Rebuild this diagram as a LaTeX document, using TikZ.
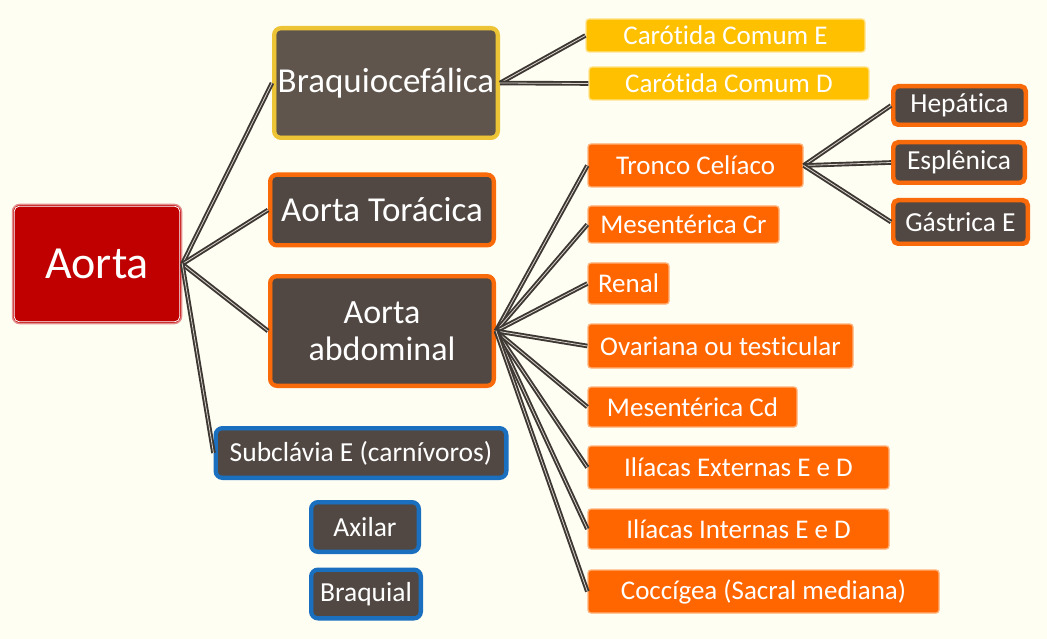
\documentclass[tikz,border=0pt]{standalone}
\usepackage{fontspec}
\setmainfont[Ligatures={NoCommon}]{Carlito}
\definecolor{bg}{HTML}{FFFEF3}
\definecolor{aortared}{HTML}{C00000}
\definecolor{darkfill}{HTML}{514843}
\definecolor{brownfill}{HTML}{5F554C}
\definecolor{orangeb}{HTML}{F96A0A}
\definecolor{orangef}{HTML}{FF6600}
\definecolor{orangel}{HTML}{FFB27A}
\definecolor{yellowf}{HTML}{FFC000}
\definecolor{yellowb}{HTML}{EDC435}
\definecolor{yellowl}{HTML}{FFE38A}
\definecolor{blueb}{HTML}{1A6FBF}
\definecolor{conn}{HTML}{3D3833}
\definecolor{connin}{HTML}{D8D2C8}
\tikzset{
  boxbase/.style={rounded corners=7, text=white, inner sep=0, align=center},
  obox/.style={boxbase, fill=darkfill, draw=orangeb, line width=4},
  ybox/.style={boxbase, fill=brownfill, draw=yellowb, line width=4},
  bbox/.style={boxbase, fill=darkfill, draw=blueb, line width=4},
  leaf/.style={rounded corners=3, inner sep=0, text=white, fill=orangef, draw=orangel, line width=1.3,
    font=\fontsize{27}{30}\selectfont},
  yleaf/.style={leaf, fill=yellowf, draw=yellowl},
  connector/.style={draw=conn, line width=1.9, double=connin, double distance=0.8},
}
\begin{document}
\begin{tikzpicture}[x=1pt,y=-1pt]
\fill[bg] (0,0) rectangle (1047,639);
\useasboundingbox (0,0) rectangle (1047,639);

% main nodes
\node[boxbase, fill=aortared, draw=white!55!aortared, line width=1.5, minimum width=169, minimum height=119,
  font=\fontsize{46}{50}\selectfont] (aorta) at (97,264) {Aorta};
\node[ybox, minimum width=224, minimum height=110, font=\fontsize{35}{38}\selectfont] (braq) at (386,83) {Braquiocefálica};
\node[obox, minimum width=224, minimum height=71, font=\fontsize{35}{38}\selectfont] (tor) at (382,210) {Aorta Torácica};
\node[obox, minimum width=224, minimum height=110, font=\fontsize{34}{37}\selectfont] (abd) at (382,331) {Aorta\\abdominal};
\node[bbox, minimum width=291, minimum height=50, font=\fontsize{27.5}{30}\selectfont] (subc) at (361,453) {Subclávia E (carnívoros)};
\node[bbox, minimum width=108, minimum height=50, font=\fontsize{27.5}{30}\selectfont] (axil) at (365,527) {Axilar};
\node[bbox, minimum width=110, minimum height=49, font=\fontsize{27.5}{30}\selectfont] (braql) at (366,594) {Braquial};

% yellow leaves
\node[yleaf, minimum width=279, minimum height=33] (ce) at (725.5,35.5) {Carótida Comum E};
\node[yleaf, minimum width=280, minimum height=33] (cd) at (729,83.5) {Carótida Comum D};

% abdominal branches
\node[leaf, minimum width=215, minimum height=43] (tc) at (695.5,165.5) {Tronco Celíaco};
\node[leaf, minimum width=191, minimum height=37] (mcr) at (683.5,224.5) {Mesentérica Cr};
\node[leaf, minimum width=81, minimum height=41] (ren) at (628.5,283.5) {Renal};
\node[leaf, minimum width=265, minimum height=44] (ov) at (720.5,346) {Ovariana ou testicular};
\node[leaf, minimum width=209, minimum height=40] (mcd) at (692.5,407) {Mesentérica Cd};
\node[leaf, minimum width=301, minimum height=43] (ie) at (738.5,467.5) {Ilíacas Externas E e D};
\node[leaf, minimum width=301, minimum height=40] (ii) at (738.5,529) {Ilíacas Internas E e D};
\node[leaf, minimum width=351, minimum height=43] (coc) at (763.5,591.5) {Coccígea (Sacral mediana)};

% celiac branches
\node[obox, rounded corners=5, minimum width=133, minimum height=39, font=\fontsize{27.5}{30}\selectfont] (hep) at (959.5,105.5) {Hepática};
\node[obox, rounded corners=5, minimum width=132, minimum height=41, font=\fontsize{27.5}{30}\selectfont] (esp) at (959,162.5) {Esplênica};
\node[obox, rounded corners=5, minimum width=135, minimum height=44, font=\fontsize{27.5}{30}\selectfont] (gas) at (960.5,222) {Gástrica E};

% inner thin borders
\foreach \n/\c in {braq/yellowb, tor/orangeb, abd/orangeb, subc/blueb, axil/blueb, braql/blueb, hep/orangeb, esp/orangeb, gas/orangeb}{
  \draw[\c, line width=0.8, rounded corners=4] ([shift={(4,4)}]\n.north west) rectangle ([shift={(-4,-4)}]\n.south east);
}
\draw[white, line width=0.8, rounded corners=5] ([shift={(2.5,2.5)}]aorta.north west) rectangle ([shift={(-2.5,-2.5)}]aorta.south east);

% connectors
\foreach \t in {braq, tor, abd, subc}{ \draw[connector] (aorta.east) -- (\t.west); }
\foreach \t in {ce, cd}{ \draw[connector] (braq.east) -- (\t.west); }
\foreach \t in {tc, mcr, ren, ov, mcd, ie, ii, coc}{ \draw[connector] (abd.east) -- (\t.west); }
\foreach \t in {hep, esp, gas}{ \draw[connector] (tc.east) -- (\t.west); }
\end{tikzpicture}
\end{document}
